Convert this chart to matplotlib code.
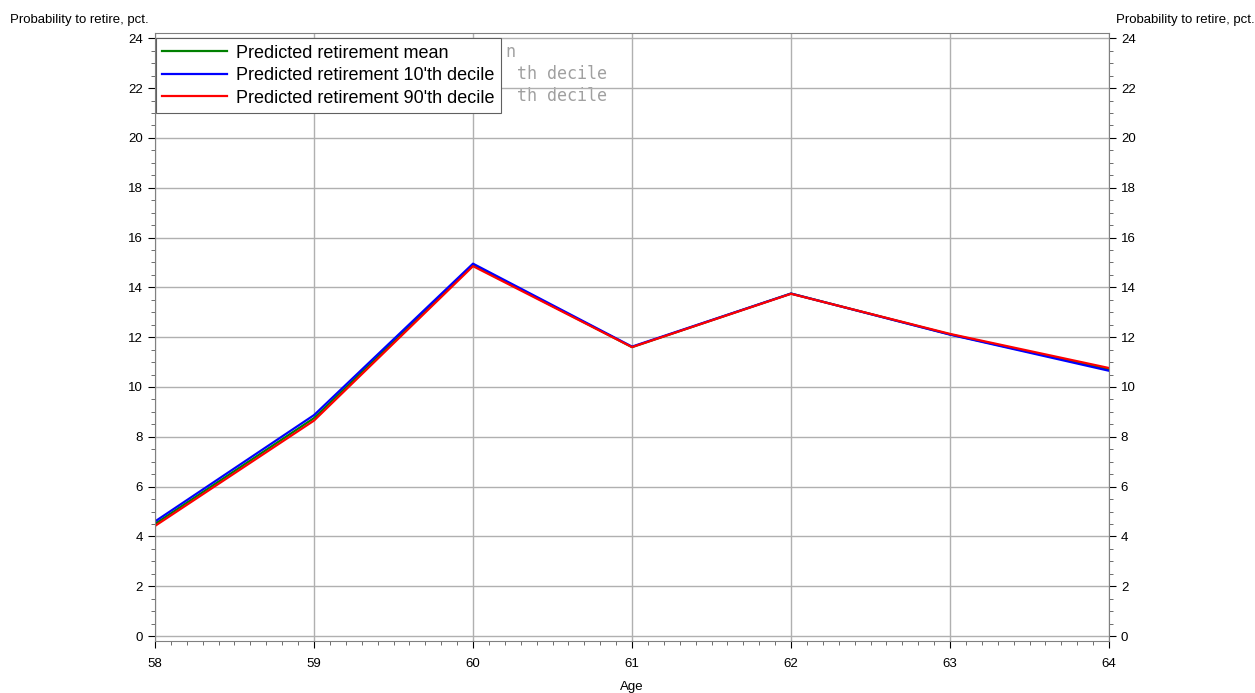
import matplotlib.pyplot as plt
from matplotlib.ticker import MultipleLocator

plt.rcParams['font.family'] = ['Liberation Sans', 'DejaVu Sans']

# data
age = [58, 59, 60, 61, 62, 63, 64]
mean_pct = [4.50, 8.75, 14.90, 11.60, 13.75, 12.11, 10.70]
dec10_pct = [4.60, 8.87, 14.95, 11.62, 13.75, 12.10, 10.65]
dec90_pct = [4.42, 8.65, 14.85, 11.60, 13.74, 12.13, 10.76]

labels = ['Predicted retirement mean',
          "Predicted retirement 10'th decile",
          "Predicted retirement 90'th decile"]

fig = plt.figure(figsize=(12.55, 6.93), dpi=100)
ax = fig.add_axes([0.1235, 0.075, 0.7602, 0.877])

ax.plot(age, mean_pct, color='#008000', lw=1.6, label=labels[0])
ax.plot(age, dec10_pct, color='#0000ff', lw=1.6, label=labels[1])
ax.plot(age, dec90_pct, color='#ff0000', lw=1.6, label=labels[2])

ax.set_xlim(58, 64)
ax.set_ylim(-0.2, 24.2)
ax.xaxis.set_major_locator(MultipleLocator(1))
ax.xaxis.set_minor_locator(MultipleLocator(0.1))
ax.yaxis.set_major_locator(MultipleLocator(2))
ax.yaxis.set_minor_locator(MultipleLocator(0.5))
ax.tick_params(which='both', direction='out', labelsize=9.5, colors='black',
               left=True, right=True, labelleft=True, labelright=True)
ax.tick_params(which='major', length=5, width=0.8)
ax.tick_params(axis='x', which='major', pad=7)
ax.tick_params(which='minor', length=3, width=0.6, color='#555555')
ax.grid(True, which='major', color='#b0b0b0', lw=1.0)
for s in ax.spines.values():
    s.set_color('#808080')

ax.set_xlabel('Age', fontsize=9.5, labelpad=8)
fig.text(0.008, 0.971, 'Probability to retire, pct.', fontsize=9.5, ha='left', va='center')
fig.text(0.889, 0.971, 'Probability to retire, pct.', fontsize=9.5, ha='left', va='center')

# leftover text peeking out behind the legend
ghost = dict(fontsize=12, color='#a0a0a0', family='DejaVu Sans Mono', va='center',
             transform=fig.transFigure, zorder=1)
ax.text(0.4025, 0.925, 'n', **ghost)
ax.text(0.412, 0.893, 'th decile', **ghost)
ax.text(0.412, 0.861, 'th decile', **ghost)

leg = ax.legend(loc='upper left', bbox_to_anchor=(0.0, 0.993), fontsize=13,
                fancybox=False, framealpha=1, edgecolor='#606060',
                borderaxespad=0.05, handlelength=3.6, labelspacing=0.3,
                borderpad=0.35, handletextpad=0.5)
leg.get_frame().set_linewidth(0.8)
leg.set_zorder(5)

fig.savefig('out.png', dpi=100)
